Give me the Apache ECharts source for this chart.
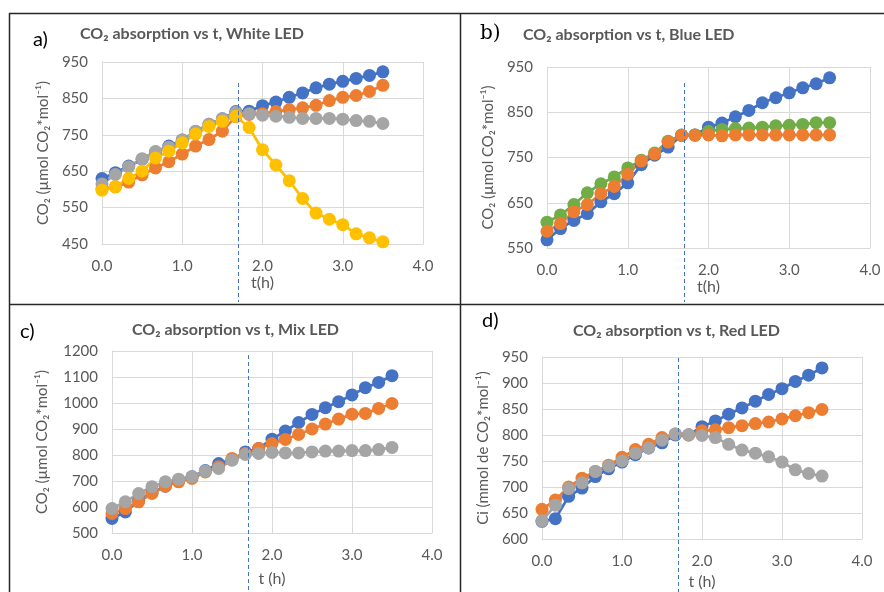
<!DOCTYPE html>
<html>
<head>
<meta charset="utf-8">
<script src="https://cdn.jsdelivr.net/npm/echarts@6/dist/echarts.min.js"></script>
<style>
html, body { margin: 0; padding: 0; background: #fff; }
#chart { width: 884px; height: 592px; }
</style>
</head>
<body>
<div id="chart"></div>
<script>
// sampling times (h), every 10 min
const times = [0, 0.167, 0.333, 0.5, 0.667, 0.833, 1, 1.167, 1.333, 1.5, 1.667, 1.833, 2, 2.167, 2.333, 2.5, 2.667, 2.833, 3, 3.167, 3.333, 3.5];
const lightOnAt = 1.7;

// a) White LED
const whiteBlue   = [630, 646, 664, 683, 703, 719, 736, 759, 779, 794, 814, 815, 830, 840, 853, 865, 879, 889, 897, 905, 913, 923];
const whiteOrange = [602, 607, 620, 640, 659, 676, 697, 719, 737, 760, 800, 806, 808, 814, 819, 824, 831, 844, 853, 858, 869, 886];
const whiteGray   = [615, 641, 662, 684, 704, 716, 736, 760, 779, 794, 812, 808, 804, 801, 798, 795, 795, 795, 793, 789, 787, 781];
const whiteYellow = [598, 607, 630, 650, 686, 705, 728, 752, 773, 787, 801, 770, 709, 667, 624, 575, 535, 518, 503, 478, 467, 456];

// b) Blue LED
const blueBlue   = [568, 593, 611, 626, 652, 670, 694, 734, 755, 773, 799, 800, 817, 826, 840, 854, 871, 882, 893, 904, 913, 926];
const blueGreen  = [607, 623, 646, 672, 692, 707, 727, 744, 760, 786, 800, 800, 808, 812, 814, 815, 817, 820, 821, 823, 827, 827];
const blueOrange = [587, 604, 630, 646, 670, 686, 713, 742, 758, 784, 799, 799, 800, 798, 800, 800, 800, 800, 800, 800, 800, 800];

// c) Mix LED
const mixBlue   = [556, 581, 625, 655, 680, 700, 716, 740, 767, 782, 812, 825, 861, 892, 925, 956, 982, 1005, 1031, 1059, 1079, 1105];
const mixOrange = [575, 594, 620, 652, 680, 697, 710, 735, 755, 787, 806, 825, 844, 860, 879, 900, 919, 938, 957, 960, 979, 998];
const mixGray   = [594, 620, 652, 678, 697, 707, 716, 738, 748, 780, 802, 806, 810, 808, 808, 812, 815, 815, 817, 817, 821, 829];

// d) Red LED
const redBlue   = [634, 639, 682, 698, 720, 735, 748, 762, 775, 785, 800, 800, 816, 827, 840, 852, 865, 878, 889, 903, 915, 929];
const redOrange = [657, 675, 700, 717, 730, 742, 757, 772, 782, 795, 802, 800, 808, 810, 814, 818, 822, 825, 831, 837, 843, 849];
const redGray   = [635, 665, 697, 708, 730, 740, 750, 765, 775, 790, 802, 801, 799, 795, 782, 771, 765, 758, 748, 733, 726, 721];

const FONT = 'Lato, "Liberation Sans", sans-serif';
const BLUE = '#4472C4', ORANGE = '#ED7D31', GRAY = '#A5A5A5', YELLOW = '#FFC000', GREEN = '#70AD47';
const TEXT = '#595959', GRID = '#D9D9D9';

const panels = [
  { tag: 'a)', tagFont: FONT, tagX: 33, tagY: 40, title: 'CO₂ absorption vs t, White LED', titleX: 80, titleY: 34,
    grid: {left: 102, top: 62, width: 321, height: 182},
    yMin: 450, yMax: 950, yStep: 50, labelEvery: 100, yName: 'CO₂ (µmol CO₂*mol⁻¹)', yGap: 51,
    xName: 't(h)', xGap: 31, dashTop: 83, dashBottom: 302,
    series: [[BLUE, whiteBlue], [ORANGE, whiteOrange], [GRAY, whiteGray], [YELLOW, whiteYellow]] },
  { tag: 'b)', tagFont: '"DejaVu Serif", "Liberation Serif", serif', tagX: 480, tagY: 34, title: 'CO₂ absorption vs t, Blue LED', titleX: 523, titleY: 35,
    grid: {left: 547, top: 67, width: 323, height: 181},
    yMin: 550, yMax: 950, yStep: 50, labelEvery: 100, yName: 'CO₂ (µmol CO₂*mol⁻¹)', yGap: 51,
    xName: 't(h)', xGap: 31, dashTop: 83, dashBottom: 302,
    series: [[BLUE, blueBlue], [GREEN, blueGreen], [ORANGE, blueOrange]] },
  { tag: 'c)', tagFont: FONT, tagX: 20, tagY: 332, title: 'CO₂ absorption vs t, Mix LED', titleX: 132, titleY: 330,
    grid: {left: 112, top: 351, width: 320, height: 182},
    yMin: 500, yMax: 1200, yStep: 100, labelEvery: 100, yName: 'CO₂ (µmol CO₂*mol⁻¹)', yGap: 62,
    xName: 't (h)', xGap: 38, dashTop: 355, dashBottom: 592,
    series: [[BLUE, mixBlue], [ORANGE, mixOrange], [GRAY, mixGray]] },
  { tag: 'd)', tagFont: FONT, tagX: 482, tagY: 321, title: 'CO₂ absorption vs t, Red LED', titleX: 573, titleY: 331,
    grid: {left: 542, top: 357, width: 320, height: 182},
    yMin: 600, yMax: 950, yStep: 50, labelEvery: 50, yName: 'Ci (mmol de CO₂*mol⁻¹)', yGap: 51,
    xName: 't (h)', xGap: 35, dashTop: 358, dashBottom: 592,
    series: [[BLUE, redBlue], [ORANGE, redOrange], [GRAY, redGray]] }
];

const chart = echarts.init(document.getElementById('chart'));

const grids = [], xAxes = [], yAxes = [], series = [];
panels.forEach((p, i) => {
  grids.push(Object.assign({containLabel: false}, p.grid));
  xAxes.push({
    gridIndex: i, type: 'value', min: 0, max: 4, interval: 1,
    axisLine: {show: true, onZero: false, lineStyle: {color: GRID, width: 1}},
    axisTick: {show: false},
    splitLine: {show: true, lineStyle: {color: GRID, width: 1}},
    axisLabel: {color: TEXT, fontSize: 15, fontFamily: FONT, margin: 15, formatter: v => v.toFixed(1)},
    name: p.xName, nameLocation: 'middle', nameGap: p.xGap,
    nameTextStyle: {color: TEXT, fontSize: 16, fontFamily: FONT}
  });
  yAxes.push({
    gridIndex: i, type: 'value', min: p.yMin, max: p.yMax, interval: p.yStep,
    axisLine: {show: true, lineStyle: {color: GRID, width: 1}},
    axisTick: {show: false},
    splitLine: {show: true, lineStyle: {color: p.labelEvery === p.yStep ? [GRID] : [GRID, 'rgba(0,0,0,0)'], width: 1}},
    axisLabel: {color: TEXT, fontSize: 15, fontFamily: FONT, margin: 14,
      formatter: v => ((v - p.yMin) % p.labelEvery === 0 ? String(v) : '')},
    name: p.yName, nameLocation: 'middle', nameGap: p.yGap,
    nameTextStyle: {color: TEXT, fontSize: 15, fontFamily: FONT}
  });
  p.series.forEach(([color, values]) => {
    series.push({
      type: 'line', xAxisIndex: i, yAxisIndex: i,
      data: times.map((t, k) => [t, values[k]]),
      symbol: 'circle', symbolSize: 13, showSymbol: true,
      lineStyle: {color, width: 2.75}, itemStyle: {color},
      animation: false, silent: true
    });
  });
});

chart.setOption({
  backgroundColor: '#fff',
  animation: false,
  grid: grids, xAxis: xAxes, yAxis: yAxes, series
});

// frame, labels, titles, and the dashed "light on" line through each plot
const graphic = [];
const frame = [[9, 13.5, 884, 13.5], [9.5, 13, 9.5, 592], [9, 304.5, 884, 304.5], [460.5, 13, 460.5, 592]];
frame.forEach(([x1, y1, x2, y2]) => graphic.push({
  type: 'line', shape: {x1, y1, x2, y2}, style: {stroke: '#262626', lineWidth: 1.5}, z: 10
}));
panels.forEach((p, i) => {
  graphic.push({type: 'text', style: {x: p.tagX, y: p.tagY, text: p.tag, fill: '#000',
    font: '20px ' + p.tagFont, textVerticalAlign: 'middle'}});
  graphic.push({type: 'text', style: {x: p.titleX, y: p.titleY, text: p.title, fill: TEXT,
    font: 'bold 16px ' + FONT, textVerticalAlign: 'middle'}});
  const px = Math.round(chart.convertToPixel({gridIndex: i}, [lightOnAt, p.yMax])[0]) + 0.5;
  graphic.push({type: 'line', shape: {x1: px, y1: p.dashTop, x2: px, y2: p.dashBottom},
    style: {stroke: BLUE, lineWidth: 1, lineDash: [4, 3]}, z: 5});
});
chart.setOption({graphic});
</script>
</body>
</html>
